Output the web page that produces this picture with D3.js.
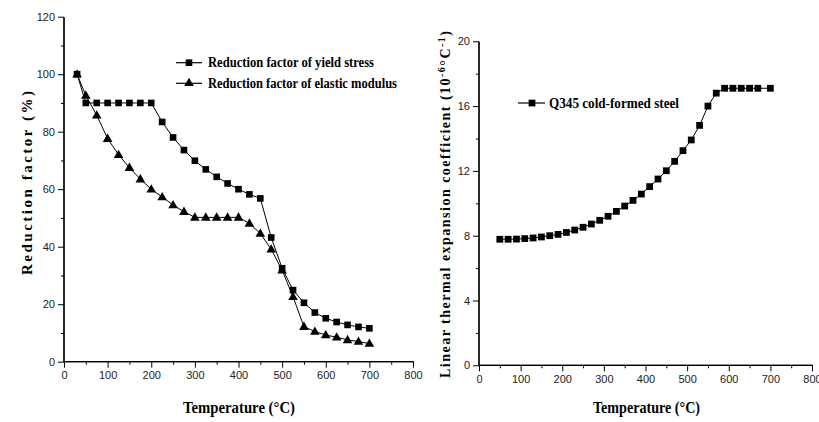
<!DOCTYPE html>
<html><head><meta charset="utf-8">
<script src="https://cdn.jsdelivr.net/npm/d3@7"></script>
<style>
body{margin:0;background:#fff;}
svg{display:block;}
.tick text{font-family:"Liberation Sans",Arial,sans-serif;font-size:11px;fill:#222;}
.ttl{font-family:"Liberation Serif","Times New Roman",serif;font-weight:bold;fill:#000;}
</style></head><body>
<svg id="c" width="819" height="422"></svg>
<script>
// ---- Left chart data ----
const tempsLeft = [30,50,75,100,125,150,175,200,225,250,275,300,325,350,375,400,425,450,475,500,525,550,575,600,625,650,675,700];
const yieldStress = [100,90,90,90,90,90,90,90,83.4,78,73.6,69.9,66.9,64.3,62,60,58.2,56.8,43.2,32.5,24.9,20.5,17.1,15.1,13.8,12.8,12.1,11.6];
const elasticModulus = [100,92.6,85.7,77.6,72,67.5,63.5,60,57.3,54.5,52.2,50.2,50.2,50.2,50.2,50.2,48.1,44.6,39.1,31.8,22.6,12.2,10.5,9.3,8.5,7.6,7.0,6.3];
const leftSeriesNames = ["Reduction factor of yield stress","Reduction factor of elastic modulus"];
// ---- Right chart data ----
const tempsRight = [50,70,90,110,130,150,170,190,210,230,250,270,290,310,330,350,370,390,410,430,450,470,490,510,530,550,570,590,610,630,650,670,700];
const expansionCoef = [7.78,7.78,7.79,7.82,7.86,7.92,8.0,8.08,8.2,8.35,8.52,8.72,8.95,9.2,9.5,9.83,10.18,10.57,11.03,11.5,12.01,12.59,13.25,13.91,14.81,16.0,16.8,17.1,17.1,17.1,17.1,17.1,17.1];
const rightSeriesName = "Q345 cold-formed steel";
// ---- Axis ticks ----
const xTicks = [0,100,200,300,400,500,600,700,800];
const xMinor = [50,150,250,350,450,550,650,750];
const yTicksLeft = [0,20,40,60,80,100,120];
const yMinorLeft = [10,30,50,70,90,110];
const yTicksRight = [0,4,8,12,16,20];
const yMinorRight = [2,6,10,14,18];

const svg = d3.select("#c");

function axes(g, x, y, xt, xm, yt, ym){
  const h = y.range()[0];
  const gx = g.append("g").attr("transform",`translate(0,${h})`);
  gx.call(d3.axisBottom(x).tickValues(xt).tickSize(6).tickPadding(4).tickFormat(d3.format("d")));
  gx.append("g").call(d3.axisBottom(x).tickValues(xm).tickSize(3).tickFormat(""));
  const gy = g.append("g").attr("transform",`translate(${x.range()[0]},0)`);
  gy.call(d3.axisLeft(y).tickValues(yt).tickSize(6).tickPadding(3).tickFormat(d3.format("d")));
  gy.append("g").call(d3.axisLeft(y).tickValues(ym).tickSize(3).tickFormat(""));
  g.selectAll(".domain").attr("stroke","#000").attr("stroke-width",1.2);
  g.selectAll(".tick line").attr("stroke","#000").attr("stroke-width",1);
  g.selectAll(".tick text").attr("transform", function(){
    const t = d3.select(this);
    return null;
  });
}

// ---------- Left chart ----------
const xL = d3.scaleLinear().domain([0,800]).range([64,413]);
const yL = d3.scaleLinear().domain([0,120]).range([361.7,16.7]);
const gL = svg.append("g");
gL.call(axes, xL, yL, xTicks, xMinor, yTicksLeft, yMinorLeft);

const lineL = d3.line().x(d=>xL(d[0])).y(d=>yL(d[1]));
const ysData = tempsLeft.map((t,i)=>[t,yieldStress[i]]);
const emData = tempsLeft.map((t,i)=>[t,elasticModulus[i]]);
gL.append("path").attr("d",lineL(ysData)).attr("fill","none").attr("stroke","#000").attr("stroke-width",1);
gL.append("path").attr("d",lineL(emData)).attr("fill","none").attr("stroke","#000").attr("stroke-width",1);
const sq = d3.symbol().type(d3.symbolSquare).size(44);
const tri = d3.symbol().type(d3.symbolTriangle).size(40);
gL.selectAll(".s").data(ysData).join("path").attr("d",sq)
  .attr("transform",d=>`translate(${xL(d[0])},${yL(d[1])})`).attr("fill","#000");
gL.selectAll(".t").data(emData).join("path").attr("d",tri)
  .attr("transform",d=>`translate(${xL(d[0])},${yL(d[1])+0.5})`).attr("fill","#000");

// legend left
const legL = [[leftSeriesNames[0],sq,62.7,166],[leftSeriesNames[1],tri,83.3,189]];
legL.forEach(([name,sym,yy,len])=>{
  gL.append("line").attr("x1",176).attr("x2",202).attr("y1",yy).attr("y2",yy).attr("stroke","#000").attr("stroke-width",1.2);
  gL.append("path").attr("d",sym).attr("transform",`translate(189,${yy})`).attr("fill","#000");
  gL.append("text").attr("class","ttl").attr("x",208).attr("y",yy+4.5).attr("font-size","14px")
    .attr("textLength",len).attr("lengthAdjust","spacingAndGlyphs").text(name);
});
// axis titles left
gL.append("text").attr("class","ttl").attr("x",183).attr("y",413).attr("font-size","16px")
  .attr("textLength",112).attr("lengthAdjust","spacingAndGlyphs").text("Temperature (°C)");
gL.append("text").attr("class","ttl").attr("transform","translate(32,275) rotate(-90)")
  .attr("font-size","15px").attr("textLength",184).attr("lengthAdjust","spacing")
  .text("Reduction factor (%)");

// ---------- Right chart ----------
const xR = d3.scaleLinear().domain([0,800]).range([479,812]);
const yR = d3.scaleLinear().domain([0,20]).range([365.3,41.3]);
const gR = svg.append("g");
gR.call(axes, xR, yR, xTicks, xMinor, yTicksRight, yMinorRight);
const exData = tempsRight.map((t,i)=>[t,expansionCoef[i]]);
const lineR = d3.line().x(d=>xR(d[0])).y(d=>yR(d[1]));
gR.append("path").attr("d",lineR(exData)).attr("fill","none").attr("stroke","#000").attr("stroke-width",1);
const sqR = d3.symbol().type(d3.symbolSquare).size(46);
gR.selectAll(".s").data(exData).join("path").attr("d",sqR)
  .attr("transform",d=>`translate(${xR(d[0])},${yR(d[1])})`).attr("fill","#000");
// legend right
gR.append("line").attr("x1",518).attr("x2",545).attr("y1",103).attr("y2",103).attr("stroke","#000").attr("stroke-width",1.2);
gR.append("path").attr("d",sqR).attr("transform","translate(532,103)").attr("fill","#000");
gR.append("text").attr("class","ttl").attr("x",549).attr("y",108).attr("font-size","14px")
  .attr("textLength",130).attr("lengthAdjust","spacingAndGlyphs").text(rightSeriesName);
gR.append("text").attr("class","ttl").attr("x",593).attr("y",413).attr("font-size","16px")
  .attr("textLength",107).attr("lengthAdjust","spacingAndGlyphs").text("Temperature (°C)");
const yt = gR.append("text").attr("class","ttl").attr("transform","translate(450,378) rotate(-90)")
  .attr("font-size","14px");
yt.append("tspan").text("Linear thermal expansion coefficient (10");
yt.append("tspan").attr("dy",-5).attr("font-size","10px").text("-6");
yt.append("tspan").attr("dy",5).text("°C");
yt.append("tspan").attr("dy",-5).attr("font-size","10px").text("-1");
yt.append("tspan").attr("dy",5).text(")");
yt.attr("textLength",347).attr("lengthAdjust","spacing");

// straight axis lines without outer tick stubs
svg.selectAll(".domain").each(function(){
  const p = d3.select(this); const dd = p.attr("d");
  const nums = dd.match(/-?\d+(\.\d+)?/g).map(Number);
  if(dd.indexOf("H")>dd.indexOf("V")) {
    p.attr("d",`M${nums[0]},0H${nums[3]}`);
  } else {
    p.attr("d",`M0,${nums[1]}V${nums[3]}`);
  }
});
</script>
</body></html>
